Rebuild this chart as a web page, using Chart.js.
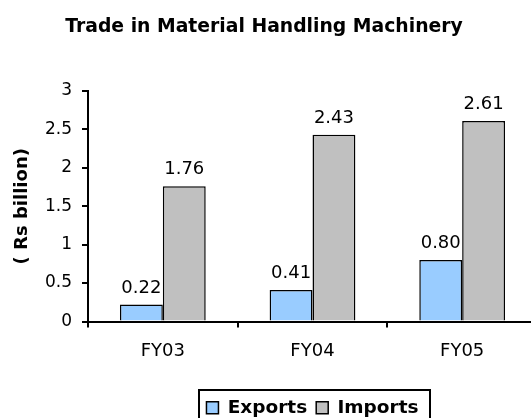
<!DOCTYPE html>
<html lang="en">
<head>
<meta charset="UTF-8" />
<title>Trade in Material Handling Machinery</title>
<script src="https://cdn.jsdelivr.net/npm/chart.js"></script>
<style>
  html, body { margin: 0; padding: 0; background: #fff; overflow: hidden; }
  /* canvas a bit wider than the window, shifted left so the x axis runs off the right edge like the original */
  #wrap { width: 531px; height: 418px; overflow: hidden; }
  #tradeChart { margin-left: -16px; display: block; }
</style>
</head>
<body>
<div id="wrap"><canvas id="tradeChart" width="560" height="418"></canvas></div>

<script>
  // data
  const years = ['FY03', 'FY04', 'FY05'];
  const exportsBn = [0.22, 0.41, 0.80];
  const importsBn = [1.76, 2.43, 2.61];
  const yTicks = [0, 0.5, 1, 1.5, 2, 2.5, 3];

  Chart.defaults.font.family = '"DejaVu Sans", Verdana, sans-serif';
  Chart.defaults.color = '#000';

  // value labels above each bar
  const barValueLabels = {
    id: 'barValueLabels',
    afterDatasetsDraw(chart) {
      const ctx = chart.ctx;
      ctx.save();
      ctx.font = '18px "DejaVu Sans"';
      ctx.fillStyle = '#000';
      ctx.textAlign = 'center';
      ctx.textBaseline = 'alphabetic';
      chart.data.datasets.forEach((ds, i) => {
        chart.getDatasetMeta(i).data.forEach((bar, j) => {
          ctx.fillText(ds.data[j].toFixed(2), bar.x, bar.y - 12);
        });
      });
      ctx.restore();
    }
  };

  // push the legend down a little (it sits close to the bottom edge in the original)
  const legendNudge = {
    id: 'legendNudge',
    afterLayout(chart) {
      chart.legend.top += 9;
      chart.legend.bottom += 9;
    }
  };

  // black frame round the legend
  const legendFrame = {
    id: 'legendFrame',
    afterDraw(chart) {
      const boxes = chart.legend.legendHitBoxes;
      if (!boxes || !boxes.length) return;
      const first = boxes[0], last = boxes[boxes.length - 1];
      const x1 = Math.round(first.left - 7);
      const x2 = Math.round(last.left + last.width + 11);
      const yMid = Math.round(first.top + first.height / 2);
      const ctx = chart.ctx;
      ctx.save();
      ctx.strokeStyle = '#000';
      ctx.lineWidth = 2;
      ctx.strokeRect(x1, yMid - 18, x2 - x1, 40);
      ctx.restore();
    }
  };

  new Chart(document.getElementById('tradeChart'), {
    type: 'bar',
    data: {
      labels: years,
      datasets: [{
        label: 'Exports',
        data: exportsBn,
        backgroundColor: '#99ccff',
        borderColor: '#000',
        borderWidth: 1.5
      }, {
        label: 'Imports',
        data: importsBn,
        backgroundColor: '#c0c0c0',
        borderColor: '#000',
        borderWidth: 1.5
      }]
    },
    options: {
      responsive: false,
      animation: false,
      devicePixelRatio: 1,
      layout: { padding: { left: 7, right: 7, top: 0, bottom: 0 } },
      datasets: { bar: { categoryPercentage: 0.573, barPercentage: 1 } },
      plugins: {
        title: {
          display: true,
          text: 'Trade in Material Handling Machinery',
          font: { size: 18.8, weight: 'bold' },
          padding: { top: 16, bottom: 52.4 }
        },
        legend: {
          position: 'bottom',
          fullSize: false,
          labels: {
            boxWidth: 12,
            boxHeight: 12,
            padding: 9,
            font: { size: 18.5, weight: 'bold' }
          }
        },
        tooltip: { enabled: false }
      },
      scales: {
        x: {
          afterFit(scale) { scale.height = 59; },
          grid: { offset: true, drawOnChartArea: false, color: '#000', lineWidth: 2, tickLength: 6 },
          border: { color: '#000', width: 2 },
          ticks: { padding: 13, font: { size: 18 } }
        },
        y: {
          min: yTicks[0],
          max: yTicks[yTicks.length - 1],
          afterFit(scale) { scale.width = 97; },
          grid: { drawOnChartArea: false, color: '#000', lineWidth: 2, tickLength: 6 },
          border: { color: '#000', width: 2 },
          ticks: {
            stepSize: yTicks[1] - yTicks[0],
            padding: 10,
            font: { size: 17 },
            callback: v => String(v)
          },
          title: {
            display: true,
            text: '( Rs billion)',
            font: { size: 18, weight: 'bold' },
            padding: { top: 21, bottom: 0 }
          }
        }
      }
    },
    plugins: [barValueLabels, legendNudge, legendFrame]
  });
</script>
</body>
</html>
